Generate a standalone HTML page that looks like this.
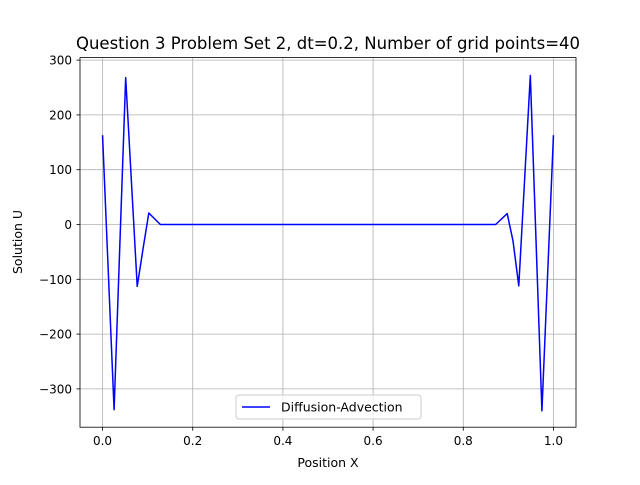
<!DOCTYPE html>
<html><head><meta charset="utf-8"><style>
body{margin:0;background:#fff;}
svg{font-family:"DejaVu Sans","Liberation Sans",sans-serif;}
</style></head><body>
<svg id="chart" width="640" height="480">
<rect width="640" height="480" fill="#fff"/>
<text x="328" y="49" font-size="16.5" text-anchor="middle">Question 3 Problem Set 2, dt=0.2, Number of grid points=40</text>
<g id="grid"></g>
<g id="ticks"></g>
<g id="series"></g>
<rect x="80" y="57.6" width="496" height="369.6" fill="none" stroke="#000" stroke-width="0.8"/>
<text x="328" y="467" font-size="12.5" text-anchor="middle">Position X</text>
<text x="22" y="242" font-size="12.5" text-anchor="middle" transform="rotate(-90 22 242)">Solution U</text>
<g>
<rect x="236" y="395" width="185" height="24" rx="3" fill="#fff" fill-opacity="0.8" stroke="#ccc"/>
<line x1="242" y1="407" x2="270" y2="407" stroke="#0000ff" stroke-width="1.5"/>
<text x="281" y="411.5" font-size="12.5">Diffusion-Advection</text>
</g>
</svg>
<script>
const xTicks=[0,0.2,0.4,0.6,0.8,1.0];
const xTickLabels=["0.0","0.2","0.4","0.6","0.8","1.0"];
const yTicks=[300,200,100,0,-100,-200,-300];
const yTickLabels=["300","200","100","0","\u2212100","\u2212200","\u2212300"];
const xValues=[0,0.0256,0.0513,0.0769,0.0897,0.1026,0.1282,0.8718,0.8974,0.9103,0.9231,0.9487,0.9744,1.0];
const uValues=[163,-338,268,-113,-45,21,0,0,20,-30,-112,272,-340,163];
const X=v=>80+(v+0.05)/1.1*496;
const Y=v=>224.5-v*0.548;
const NS="http://www.w3.org/2000/svg";
const g=document.getElementById('grid'),t=document.getElementById('ticks'),s=document.getElementById('series');
function mk(tag,at,par){const e=document.createElementNS(NS,tag);for(const k in at)e.setAttribute(k,at[k]);par.appendChild(e);return e;}
xTicks.forEach((v,i)=>{const x=X(v);
const gl=mk('line',{x1:x,x2:x,y1:57.6,y2:427.2,stroke:'#b0b0b0','stroke-width':0.8},g);


const tk=mk('line',{x1:x,x2:x,y1:427.2,y2:430.7,stroke:'#000','stroke-width':0.8},t);


const tx=mk('text',{x:x,y:445,'font-size':12,'text-anchor':'middle'},t);tx.textContent=xTickLabels[i];

});
yTicks.forEach((v,i)=>{const y=Y(v);
const gl=mk('line',{x1:80,x2:576,y1:y,y2:y,stroke:'#b0b0b0','stroke-width':0.8},g);


const tk=mk('line',{x1:76.5,x2:80,y1:y,y2:y,stroke:'#000','stroke-width':0.8},t);


const tx=mk('text',{x:72,y:y+4.5,'font-size':12,'text-anchor':'end'},t);tx.textContent=yTickLabels[i];

});
const pts=xValues.map((v,i)=>X(v).toFixed(2)+','+Y(uValues[i]).toFixed(2)).join(' ');
const pl=mk('polyline',{points:pts,fill:'none',stroke:'#0000ff','stroke-width':1.5,'stroke-linejoin':'round'},s);


</script>
</body></html>
